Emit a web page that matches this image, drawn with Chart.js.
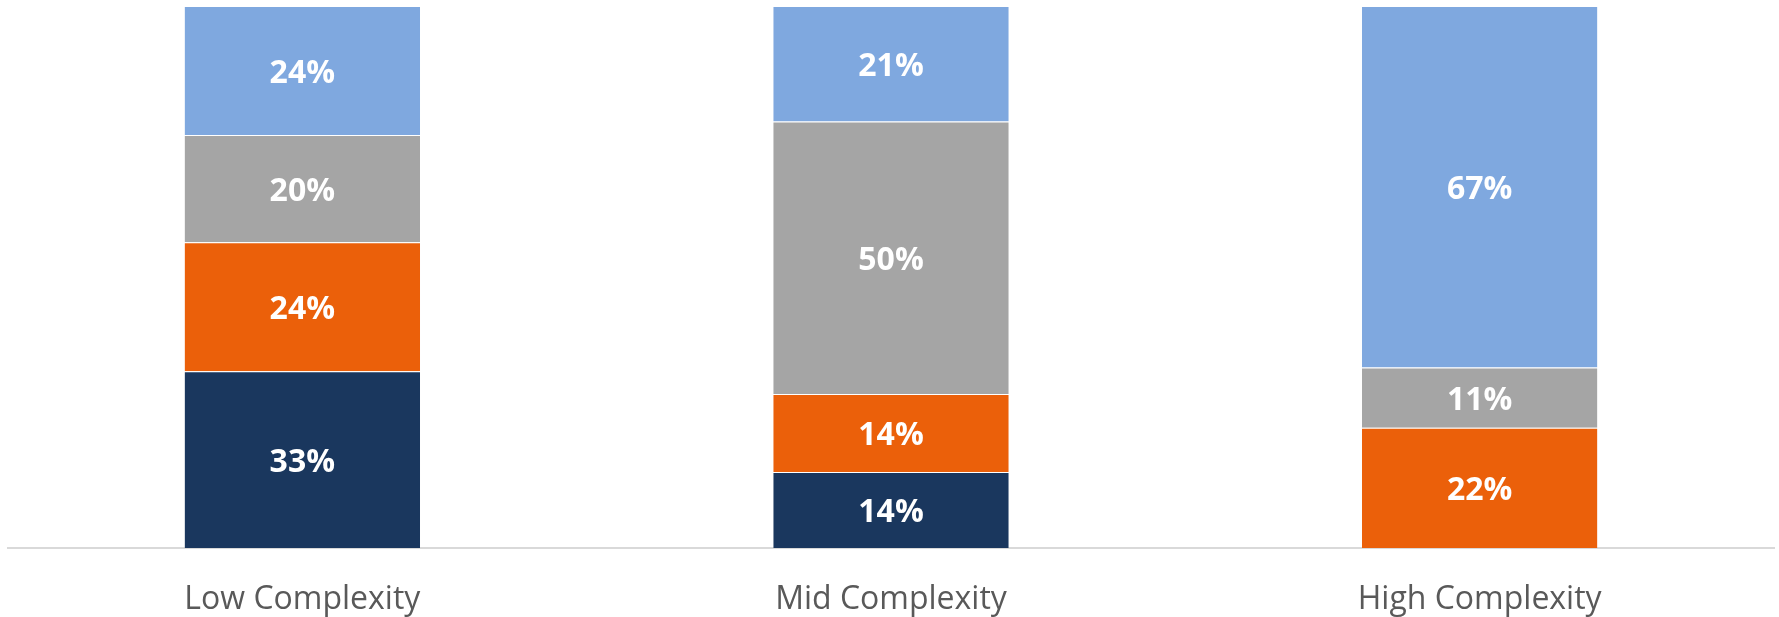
<!DOCTYPE html>
<html>
<head>
<meta charset="utf-8">
<script src="https://cdn.jsdelivr.net/npm/chart.js@4"></script>
<style>
  html, body { margin: 0; padding: 0; background: #fff; }
  #wrap { width: 1779px; height: 617px; }
</style>
</head>
<body>
<div id="wrap"><canvas id="mix_canvas"></canvas></div>
<script>
const categories = ['Low Complexity', 'Mid Complexity', 'High Complexity'];

// shares per complexity group, bottom segment first
const navyShare = [32.6, 14.0, 0];
const orangeShare = [23.8, 14.4, 22.2];
const greyShare = [19.8, 50.3, 11.1];
const blueShare = [23.8, 21.3, 66.7];

const yTicks = [0, 100];

// writes the rounded percentage in the middle of each segment
const segmentLabels = {
    id: 'segmentLabels',
    afterDatasetsDraw(chart) {
        const ctx = chart.ctx;
        ctx.save();
        ctx.fillStyle = '#ffffff';
        ctx.font = 'bold 32px "Open Sans"';
        ctx.textAlign = 'center';
        ctx.textBaseline = 'middle';
        chart.data.datasets.forEach((ds, i) => {
            const meta = chart.getDatasetMeta(i);
            meta.data.forEach((bar, j) => {
                const v = ds.data[j];
                if (!v) return;
                ctx.fillText(Math.round(v) + '%', bar.x, (bar.y + bar.base) / 2 + 3);
            });
        });
        ctx.restore();
    }
};

const mix = document.getElementById('mix_canvas');

new Chart(mix, {
    type: 'bar',
    data: {
        labels: categories,
        datasets: [
            { label: 'Navy', data: navyShare, backgroundColor: '#1A375E' },
            { label: 'Orange', data: orangeShare, backgroundColor: '#EB600A' },
            { label: 'Grey', data: greyShare, backgroundColor: '#A5A5A5' },
            { label: 'Blue', data: blueShare, backgroundColor: '#7FA8DF' }
        ].map(ds => Object.assign(ds, {
            borderWidth: { top: 1 },
            borderColor: 'rgba(255,255,255,0.45)',
            borderSkipped: 'start',
            categoryPercentage: 1,
            barPercentage: 0.4
        }))
    },
    options: {
        responsive: true,
        maintainAspectRatio: false,
        animation: false,
        layout: { padding: { left: 8, right: 5, top: 6, bottom: 0 } },
        plugins: {
            legend: { display: false },
            tooltip: { enabled: false }
        },
        scales: {
            x: {
                stacked: true,
                grid: { display: false, drawTicks: false },
                border: { display: true, color: '#D9D9D9', width: 2 },
                ticks: {
                    color: '#595959',
                    padding: 33,
                    font: { family: '"Open Sans"', size: 32 }
                },
                afterFit(scale) {
                    scale.height = 69;
                }
            },
            y: {
                stacked: true,
                display: false,
                min: yTicks[0],
                max: yTicks[1]
            }
        }
    },
    plugins: [segmentLabels]
});
</script>
</body>
</html>
